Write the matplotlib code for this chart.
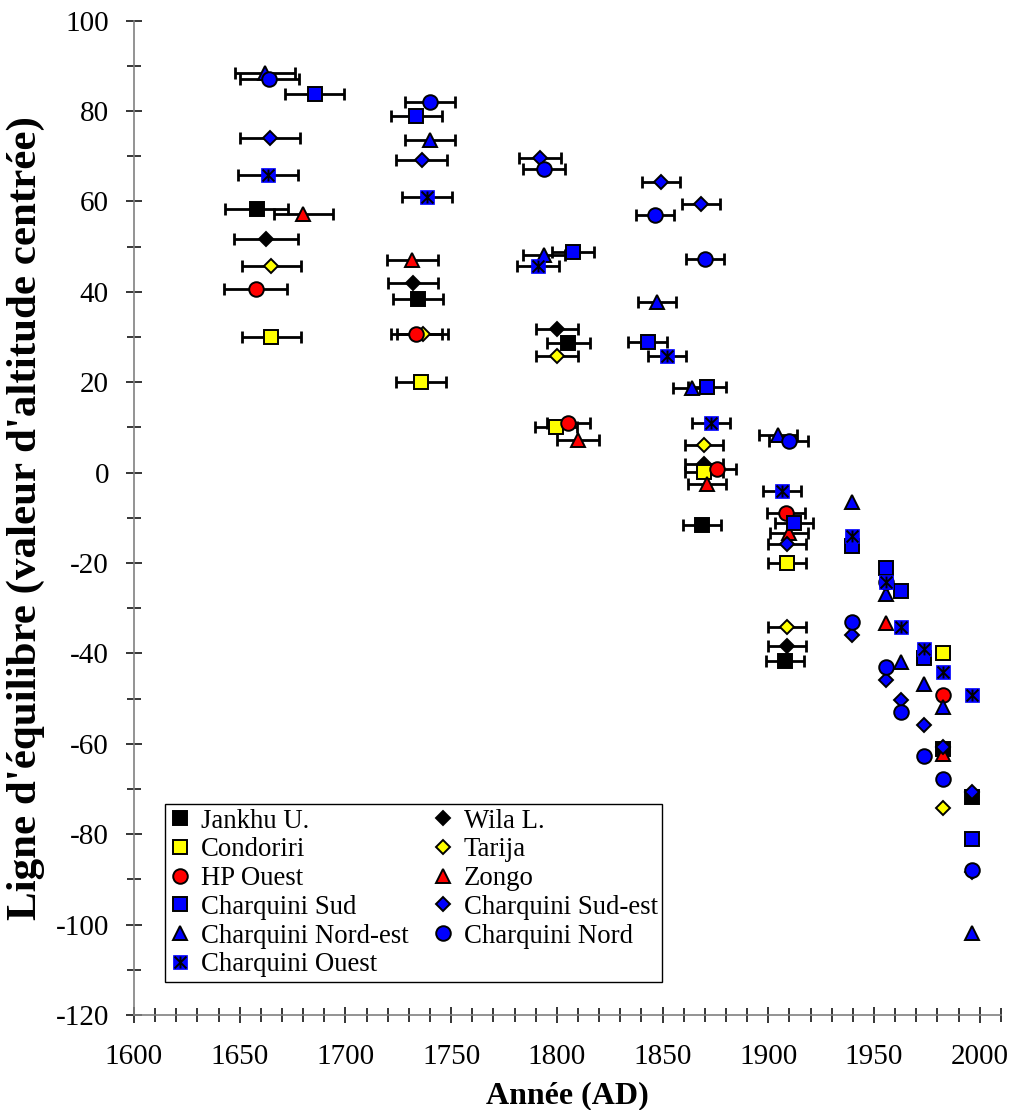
import matplotlib
matplotlib.use("Agg")
import matplotlib.pyplot as plt
from matplotlib.path import Path
from matplotlib.ticker import MultipleLocator
from matplotlib.legend_handler import HandlerTuple
import numpy as np

plt.rcParams['font.family'] = ['Liberation Serif', 'DejaVu Serif']
plt.rcParams['axes.unicode_minus'] = False

# ---- data (year, centred ELA value, half-width of dating error) ----
jankhu_x = [1658, 1734.4, 1805.5, 1868.8, 1907.8, 1982.6, 1996.6]
jankhu_y = [58.3, 38.4, 28.6, -11.7, -41.6, -61.2, -71.7]
jankhu_e = [15, 12, 10, 9, 9, 0, 0]

wila_x = [1662.4, 1732, 1800, 1869.7, 1908.7, 1996.6]
wila_y = [51.6, 41.9, 31.7, 1.8, -38.3, -88.3]
wila_e = [15, 12, 10, 9, 9, 0]

condoriri_x = [1665, 1735.7, 1799.5, 1869.7, 1908.7, 1982.6]
condoriri_y = [30.1, 20.0, 10.0, 0.2, -20.0, -40.0]
condoriri_e = [14, 12, 10, 9, 9, 0]

tarija_x = [1665, 1736.5, 1800, 1869.7, 1908.7, 1982.6]
tarija_y = [45.7, 30.7, 25.7, 6.0, -34.1, -74.2]
tarija_e = [14, 12, 10, 9, 9, 0]

hp_x = [1657.5, 1733.6, 1805.5, 1875.7, 1908.5, 1982.6]
hp_y = [40.7, 30.7, 10.9, 0.8, -9.0, -49.2]
hp_e = [15, 12, 10, 9, 9, 0]

zongo_x = [1680, 1731.7, 1810, 1871, 1910, 1955.9, 1982.6]
zongo_y = [57.2, 47.1, 7.2, -2.5, -13.3, -33.3, -62.3]
zongo_e = [14, 12, 10, 9, 9, 0, 0]

sud_x = [1685.5, 1733.6, 1807.7, 1842.9, 1871, 1912, 1939.8, 1955.9, 1963, 1973.7, 1996.6]
sud_y = [83.7, 78.8, 48.8, 28.8, 19.0, -11.2, -16.2, -21.1, -26.1, -41.1, -81.1]
sud_e = [14, 12, 10, 9, 9, 9, 0, 0, 0, 0, 0]

sudest_x = [1664.3, 1736, 1792, 1849.5, 1868, 1908.7, 1939.8, 1955.9, 1963, 1973.7, 1982.6, 1996.6]
sudest_y = [74.1, 69.2, 69.6, 64.2, 59.4, -15.8, -35.9, -45.9, -50.3, -55.8, -60.8, -70.6]
sudest_e = [14, 12, 10, 9, 9, 9, 0, 0, 0, 0, 0, 0]

nordest_x = [1662, 1740, 1794, 1847.5, 1864, 1904.6, 1939.8, 1955.9, 1963, 1973.7, 1982.6, 1996.6]
nordest_y = [88.4, 73.5, 48.2, 37.8, 18.8, 8.3, -6.6, -26.8, -41.8, -46.8, -51.8, -101.8]
nordest_e = [14, 12, 10, 9, 9, 9, 0, 0, 0, 0, 0, 0]

nord_x = [1664, 1740, 1794, 1846.6, 1869.9, 1909.6, 1939.8, 1955.5, 1955.9, 1963, 1973.7, 1982.6, 1996.6]
nord_y = [87.0, 82.1, 67.1, 57.0, 47.2, 7.1, -33.0, -24.1, -42.9, -52.9, -62.7, -67.8, -87.9]
nord_e = [14, 12, 10, 9, 9, 9, 0, 0, 0, 0, 0, 0, 0]

ouest_x = [1663.4, 1738.6, 1791, 1852.3, 1873, 1906.5, 1939.8, 1955.9, 1963, 1973.7, 1982.6, 1996.6]
ouest_y = [65.8, 60.9, 45.8, 25.8, 10.9, -4.0, -14.0, -24.1, -34.1, -39.1, -44.2, -49.2]
ouest_e = [14, 12, 10, 9, 9, 9, 0, 0, 0, 0, 0, 0]

# asterisk marker (Excel "star")
star = Path([(-1, -1), (1, 1), (-1, 1), (1, -1), (0, -1), (0, 1)],
            [Path.MOVETO, Path.LINETO, Path.MOVETO, Path.LINETO, Path.MOVETO, Path.LINETO])

series = [
    ("Jankhu U.", jankhu_x, jankhu_y, jankhu_e, 's', 'black', 9.5),
    ("Wila L.", wila_x, wila_y, wila_e, 'D', 'black', 7.5),
    ("Condoriri", condoriri_x, condoriri_y, condoriri_e, 's', '#ffff00', 9.5),
    ("Tarija", tarija_x, tarija_y, tarija_e, 'D', '#ffff00', 7.5),
    ("HP Ouest", hp_x, hp_y, hp_e, 'o', '#ff0000', 10.5),
    ("Zongo", zongo_x, zongo_y, zongo_e, '^', '#ff0000', 10.5),
    ("Charquini Sud", sud_x, sud_y, sud_e, 's', '#0000ff', 9.5),
    ("Charquini Sud-est", sudest_x, sudest_y, sudest_e, 'D', '#0000ff', 7.5),
    ("Charquini Nord-est", nordest_x, nordest_y, nordest_e, '^', '#0000ff', 10.5),
    ("Charquini Nord", nord_x, nord_y, nord_e, 'o', '#0000ff', 10.5),
    ("Charquini Ouest", ouest_x, ouest_y, ouest_e, 's', '#0000ff', 9.5),
]

fig = plt.figure(figsize=(10.15, 11.1), dpi=100)
ax = fig.add_axes([0.132, 0.0856, 0.854, 0.8958])

handles = {}
for name, xs, ys, es, mk, col, ms in series:
    xs = np.array(xs)
    ys = np.array(ys)
    es = np.array(es, dtype=float)
    m = es > 0
    ax.errorbar(xs[m], ys[m], xerr=es[m], fmt='none', ecolor='black',
                elinewidth=2.0, capsize=4.5, capthick=2.0, zorder=2)
    if name == "Charquini Ouest":
        h1, = ax.plot(xs, ys, ls='none', marker='s', ms=ms, mfc=col, mec=col, mew=0.5, zorder=3)
        h2, = ax.plot(xs, ys, ls='none', marker=star, ms=8.5, mfc='none', mec='black', mew=1.4, zorder=3)
        handles[name] = (h1, h2)
    else:
        h, = ax.plot(xs, ys, ls='none', marker=mk, ms=ms, mfc=col, mec='black', mew=1.4, zorder=3)
        handles[name] = h

ax.set_xlim(1600, 2010)
ax.set_ylim(-120, 100)
ax.xaxis.set_major_locator(MultipleLocator(50))
ax.xaxis.set_minor_locator(MultipleLocator(10))
ax.yaxis.set_major_locator(MultipleLocator(20))
ax.yaxis.set_minor_locator(MultipleLocator(10))

for s in ['top', 'right']:
    ax.spines[s].set_visible(False)
for s in ['left', 'bottom']:
    ax.spines[s].set_color('#808080')
    ax.spines[s].set_linewidth(1.2)

ax.tick_params(axis='both', which='major', direction='inout', length=12, width=1.1,
               color='black', labelsize=21)
ax.tick_params(axis='x', which='major', pad=15)
ax.tick_params(axis='y', which='major', pad=12)
ax.tick_params(axis='both', which='minor', direction='inout', length=10, width=1.1, color='black')
ax.set_xticks([1600, 1650, 1700, 1750, 1800, 1850, 1900, 1950, 2000])

ax.set_xlabel("Année (AD)", fontsize=23, fontweight='bold')
ax.set_ylabel("Ligne d'équilibre (valeur d'altitude centrée)", fontsize=31, fontweight='bold')
ax.xaxis.set_label_coords(0.5, -0.067)
ax.yaxis.set_label_coords(-0.103, 0.5)

order = ["Jankhu U.", "Condoriri", "HP Ouest", "Charquini Sud", "Charquini Nord-est",
         "Charquini Ouest", "Wila L.", "Tarija", "Zongo", "Charquini Sud-est", "Charquini Nord"]
leg = ax.legend([handles[n] for n in order], order, ncol=2, loc='lower left',
                bbox_to_anchor=(0.036, 0.033), borderaxespad=0, fontsize=19.3,
                frameon=True, fancybox=False, edgecolor='black', framealpha=1,
                handlelength=0.75, handletextpad=0.4, labelspacing=0.14,
                columnspacing=0.9, borderpad=0.18,
                handler_map={tuple: HandlerTuple(ndivide=1)})
leg.get_frame().set_linewidth(1.0)

fig.savefig("out.png", dpi=100)
